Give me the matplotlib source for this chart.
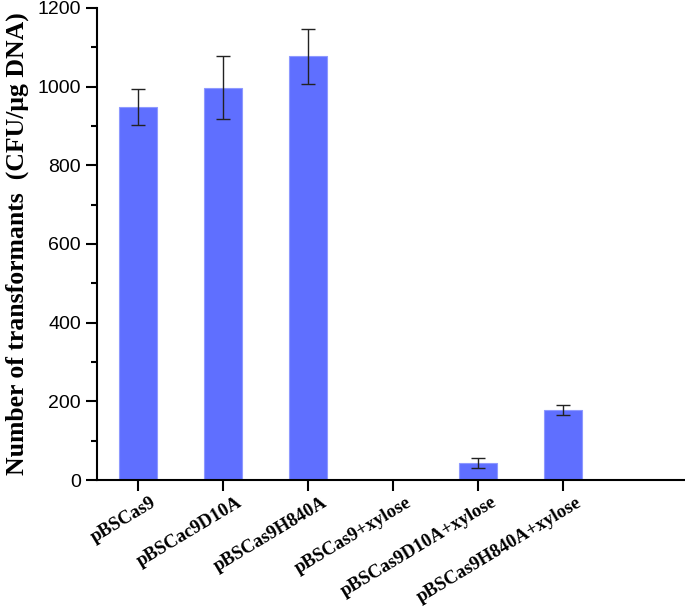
import matplotlib
matplotlib.use('Agg')
from matplotlib import pyplot as plt
from matplotlib.ticker import MultipleLocator
from matplotlib.transforms import ScaledTranslation
import numpy as np

labels = ['pBSCas9', 'pBSCac9D10A', 'pBSCas9H840A',
          'pBSCas9+xylose', 'pBSCas9D10A+xylose', 'pBSCas9H840A+xylose']
values = [948, 997, 1077, 0, 43, 178]
errors = [46, 80, 70, 0, 12, 13]

fig = plt.figure(figsize=(6.85, 6.1), dpi=100)
ax = fig.add_axes([0.1416, 0.213, 0.8584, 0.774])

index = np.arange(len(labels))
ax.bar(index, values, 0.45, color='#5f6fff', edgecolor='#8e99ff', linewidth=0.8,
       yerr=errors, error_kw=dict(ecolor='#222222', elinewidth=1.0, capsize=5, capthick=1.0))

ax.set_xlim(-0.48, 6.43)
ax.set_ylim(0, 1200)
ax.yaxis.set_major_locator(MultipleLocator(200))
ax.yaxis.set_minor_locator(MultipleLocator(100))

for s in ['top', 'right']:
    ax.spines[s].set_visible(False)
for s in ['left', 'bottom']:
    ax.spines[s].set_linewidth(1.5)

ax.tick_params(axis='both', which='major', direction='out', length=8, width=1.5)
ax.tick_params(axis='y', which='minor', direction='out', length=4, width=1.5)
ax.tick_params(axis='x', pad=2)

ax.set_yticks(np.arange(0, 1201, 200))
ax.set_yticklabels([str(v) for v in range(0, 1201, 200)], fontsize=14,
                   fontfamily='Liberation Sans')
ax.set_xticks(index)
ax.set_xticklabels(labels, rotation=31, ha='right', rotation_mode='anchor',
                   fontsize=13.5, fontweight='bold', fontfamily='Liberation Serif')
offset = ScaledTranslation(13 / 100, 0, fig.dpi_scale_trans)
for t in ax.get_xticklabels():
    t.set_transform(t.get_transform() + offset)

ax.set_ylabel('Number of transformants  (CFU/\u03bcg DNA)', fontsize=18.5,
              fontweight='bold', fontfamily='Liberation Serif', labelpad=6)

fig.savefig('out.png', dpi=100)
